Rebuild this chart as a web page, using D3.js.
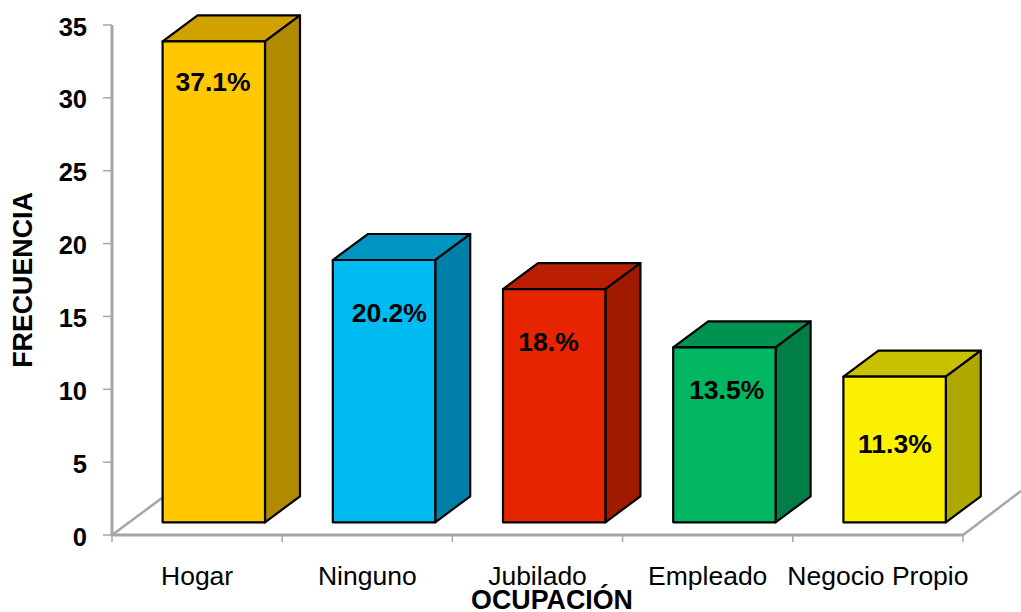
<!DOCTYPE html>
<html><head><meta charset="utf-8">
<script src="https://cdn.jsdelivr.net/npm/d3@7"></script>
<style>html,body{margin:0;padding:0;background:#fff}svg{display:block;font-family:"Liberation Sans",Arial,sans-serif}</style>
</head><body><svg id="c" width="1021" height="612"></svg>
<script>
const categories = ["Hogar","Ninguno","Jubilado","Empleado","Negocio Propio"];
const frequencies = [33,18,16,12,10];
const percentLabels = ["37.1%","20.2%","18.%","13.5%","11.3%"];
const yTicks = [0,5,10,15,20,25,30,35];
const xTitle = "OCUPACIÓN";
const yTitle = "FRECUENCIA";

// Appearance and layout, separate from the data
const frontColors = ["#FFC800","#00BBF2","#E62500","#00B661","#FBF000"];
const topColors   = ["#CFA200","#0095C1","#B91E00","#009250","#C9C000"];
const sideColors  = ["#B08A00","#0080A8","#A01A00","#007E45","#AFA800"];
const labelShiftX = [16,22,11,19,17];
const labelShiftY = [50,62,62,52,76];

const svg = d3.select("#c");
const x = d3.scaleBand().domain(categories).range([112,963]);
const y = d3.scaleLinear().domain([0,35]).range([535,25]);
const depthX = 35, depthY = 26, frontDrop = 12.7, barInset = 50.6, barW = 102.4;
const grey = "#A6A6A6";

// walls and floor edges
const axes = svg.append("g").attr("fill","none").attr("stroke",grey).attr("stroke-width",3);
axes.append("path").attr("d",`M112,${y(35)}V${y(0)}H963`);
axes.append("path").attr("d",`M112,${y(0)}L162,498`).attr("stroke-width",2.5);
axes.append("path").attr("d",`M963,${y(0)}L1021,491`).attr("stroke-width",2.5);

const ticks = svg.append("g").attr("stroke",grey).attr("stroke-width",1.5);
yTicks.forEach(t=>ticks.append("line").attr("x1",103).attr("x2",112).attr("y1",y(t)).attr("y2",y(t)));
categories.forEach(c=>ticks.append("line").attr("x1",x(c)).attr("x2",x(c)).attr("y1",535).attr("y2",542));
ticks.append("line").attr("x1",963).attr("x2",963).attr("y1",535).attr("y2",542);

// y tick labels
svg.append("g").selectAll("text").data(yTicks).join("text")
  .attr("x",87).attr("y",d=>y(d)+10.5).attr("text-anchor","end")
  .attr("font-size",25.5).attr("font-weight","bold").attr("fill","#000").text(d=>d);

// bars
const bars = svg.append("g").attr("stroke","#000").attr("stroke-width",2.2).attr("stroke-linejoin","round");
categories.forEach((c,i)=>{
  const l = x(c)+barInset, r = l+barW;
  const t = y(frequencies[i])-frontDrop, b = y(0)-frontDrop;
  const g = bars.append("g");
  g.append("path").attr("fill",topColors[i])
    .attr("d",`M${l},${t}L${l+depthX},${t-depthY}H${r+depthX}L${r},${t}Z`);
  g.append("path").attr("fill",sideColors[i])
    .attr("d",`M${r},${t}L${r+depthX},${t-depthY}V${b-depthY}L${r},${b}Z`);
  g.append("rect").attr("fill",frontColors[i]).attr("x",l).attr("y",t).attr("width",barW).attr("height",b-t);
});

// percentage labels
svg.append("g").selectAll("text").data(percentLabels).join("text")
  .attr("x",(d,i)=>x(categories[i])+x.bandwidth()/2+labelShiftX[i])
  .attr("y",(d,i)=>y(frequencies[i])-frontDrop+labelShiftY[i])
  .attr("text-anchor","middle").attr("font-size",26.5).attr("font-weight","bold").attr("fill","#000").text(d=>d);

// category labels
svg.append("g").selectAll("text").data(categories).join("text")
  .attr("x",d=>x(d)+x.bandwidth()/2).attr("y",585)
  .attr("text-anchor","middle").attr("font-size",26.5).attr("fill","#000").text(d=>d);

svg.append("text").attr("x",552).attr("y",609).attr("text-anchor","middle")
  .attr("font-size",26.8).attr("font-weight","bold").text(xTitle);
svg.append("text").attr("transform","translate(32,280) rotate(-90)").attr("text-anchor","middle")
  .attr("font-size",26.8).attr("font-weight","bold").text(yTitle);
</script></body></html>
